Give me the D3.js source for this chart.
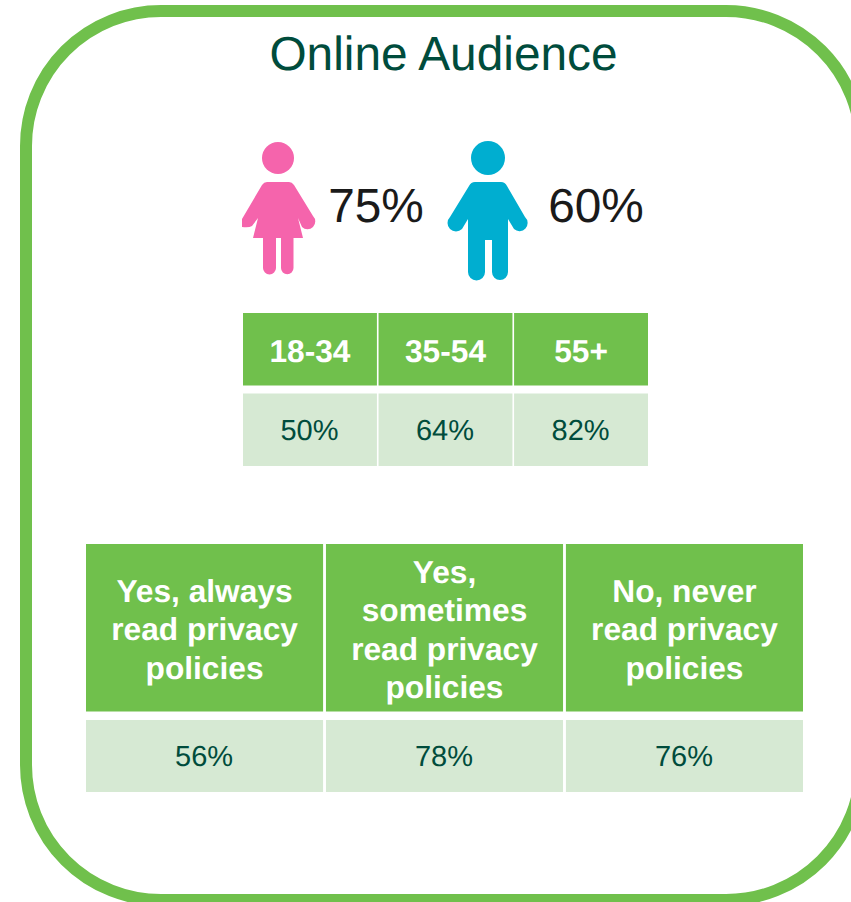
<!DOCTYPE html>
<html>
<head>
<meta charset="utf-8">
<script src="https://cdn.jsdelivr.net/npm/d3@7"></script>
<style>
html, body { margin: 0; padding: 0; background: #fff; overflow: hidden; }
svg { display: block; font-family: "Liberation Sans", Arial, sans-serif; text-rendering: geometricPrecision; }
</style>
</head>
<body>
<div id="chart"></div>
<script>
var width = 851,
    height = 902;

var green = "#70c04c",
    pale = "#d6e9d3",
    darkText = "#004c3c";

var title = "Online Audience";

var genders = ["female", "male"];
var genderValues = ["75%", "60%"];

var ageLabels = ["18-34", "35-54", "55+"];
var ageValues = ["50%", "64%", "82%"];

var policyLabels = [
    ["Yes, always", "read privacy", "policies"],
    ["Yes,", "sometimes", "read privacy", "policies"],
    ["No, never", "read privacy", "policies"]
];
var policyValues = ["56%", "78%", "76%"];

var svg = d3.select("#chart")
    .append("svg")
    .attr("width", width)
    .attr("height", height);

// rounded frame, runs off the right and bottom edge
svg.append("rect")
    .attr("x", 26)
    .attr("y", 11)
    .attr("width", 835)
    .attr("height", 889)
    .attr("rx", 135)
    .attr("ry", 135)
    .attr("fill", "none")
    .attr("stroke", green)
    .attr("stroke-width", 12);

svg.append("text")
    .text(title)
    .attr("x", 443.5)
    .attr("y", 70)
    .attr("text-anchor", "middle")
    .attr("fill", darkText)
    .style("font-size", "47.8px");

// people icons
var female = svg.append("g").attr("fill", "#f564ac");
female.append("circle").attr("cx", 278).attr("cy", 158).attr("r", 16);
female.append("path").attr("d",
    "M267,182 L289,182 Q292,182 294,185 L313,216 A6.5,6.5 0 0 1 302,227 L298,218 L303,238 " +
    "L293.5,238 L293.5,268 A6.2,6.2 0 0 1 281,268 L281,238 L276,238 L276,268 A6.5,6.5 0 0 1 263,268 L263,238 " +
    "L253,238 L258,218 L252,226 Q249,228 242,227 L242,219 L262,185 Q264,182 267,182 Z");

var male = svg.append("g").attr("fill", "#00aed0");
male.append("circle").attr("cx", 488).attr("cy", 158).attr("r", 17);
male.append("path").attr("d",
    "M475,182 L501,182 Q505,182 507,186 L525,217 A6.5,6.5 0 0 1 514,229 L508,219 " +
    "L508,272 A8,8 0 0 1 492,272 L492,240 L485,240 L485,272 A8.5,8.5 0 0 1 468,272 L468,219 " +
    "L462,229 A6.5,6.5 0 0 1 450,217 L469,186 Q471,182 475,182 Z");

var genderX = d3.scaleOrdinal().domain(genders).range([376, 596]);

svg.selectAll("text.gender")
    .data(genders)
    .enter()
    .append("text")
    .attr("class", "gender")
    .attr("x", function(d) { return genderX(d); })
    .attr("y", 222)
    .attr("text-anchor", "middle")
    .attr("fill", "#1a1a1a")
    .style("font-size", "47.8px")
    .text(function(d, i) { return genderValues[i]; });

// header row + value row
function drawTable(labels, values, left, right, headTop, headBottom, valueTop, valueBottom, lineHeight) {
    var x = d3.scaleBand()
        .domain(d3.range(labels.length))
        .range([left, right])
        .paddingInner(0.012);

    var g = svg.append("g");

    g.selectAll("rect.head")
        .data(labels)
        .enter()
        .append("rect")
        .attr("class", "head")
        .attr("x", function(d, i) { return x(i); })
        .attr("y", headTop)
        .attr("width", x.bandwidth())
        .attr("height", headBottom - headTop)
        .attr("fill", green);

    g.selectAll("rect.value")
        .data(values)
        .enter()
        .append("rect")
        .attr("class", "value")
        .attr("x", function(d, i) { return x(i); })
        .attr("y", valueTop)
        .attr("width", x.bandwidth())
        .attr("height", valueBottom - valueTop)
        .attr("fill", pale);

    labels.forEach(function(lines, i) {
        var rows = [].concat(lines);
        var cy = (headTop + headBottom) / 2;
        var firstY = cy - (rows.length - 1) * lineHeight / 2 + 12.5;
        rows.forEach(function(line, j) {
            g.append("text")
                .text(line)
                .attr("x", x(i) + x.bandwidth() / 2)
                .attr("y", firstY + j * lineHeight)
                .attr("text-anchor", "middle")
                .attr("fill", "#fff")
                .style("font-weight", "bold")
                .style("font-size", "31.7px");
        });
    });

    g.selectAll("text.value")
        .data(values)
        .enter()
        .append("text")
        .attr("class", "value")
        .attr("x", function(d, i) { return x(i) + x.bandwidth() / 2 - 0.5; })
        .attr("y", (valueTop + valueBottom) / 2 + 10)
        .attr("text-anchor", "middle")
        .attr("fill", darkText)
        .style("font-size", "29px")
        .text(function(d) { return d; });
}

drawTable(ageLabels, ageValues, 243, 648, 313, 385.5, 393.5, 466, 38.5);
drawTable(policyLabels, policyValues, 86, 803, 544, 711.5, 720, 792, 38.5);
</script>
</body>
</html>
